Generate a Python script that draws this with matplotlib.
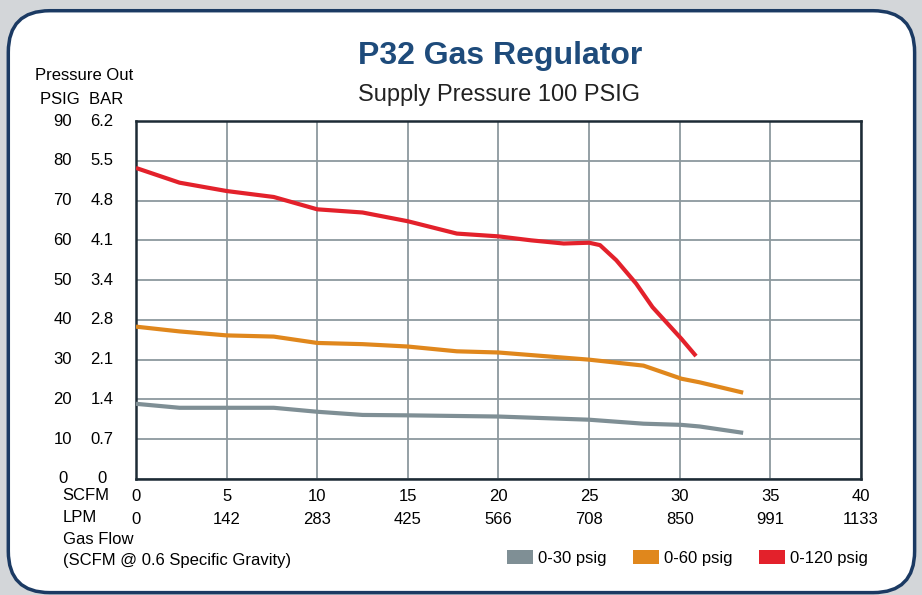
import matplotlib.pyplot as plt
from matplotlib.patches import FancyBboxPatch, Patch

# --- data ---
scfm_ticks = [0, 5, 10, 15, 20, 25, 30, 35, 40]
lpm_ticks = [0, 142, 283, 425, 566, 708, 850, 991, 1133]
psig_ticks = [0, 10, 20, 30, 40, 50, 60, 70, 80, 90]
bar_ticks = ["0", "0.7", "1.4", "2.1", "2.8", "3.4", "4.1", "4.8", "5.5", "6.2"]

flow_30 = [0, 2.4, 5, 7.6, 10, 12.5, 15, 20, 25, 28, 30.1, 31.1, 33.5]
psig_30 = [18.9, 17.9, 17.9, 17.9, 16.9, 16.1, 16.0, 15.7, 14.9, 13.9, 13.6, 13.2, 11.6]

flow_60 = [0, 2.4, 5, 7.6, 10, 12.5, 15, 17.7, 20, 25, 28, 30.1, 31.1, 33.5]
psig_60 = [38.3, 37.1, 36.1, 35.8, 34.2, 33.9, 33.3, 32.1, 31.8, 30.0, 28.5, 25.2, 24.3, 21.7]

flow_120 = [0, 2.4, 5, 7.6, 10, 12.5, 15, 17.7, 20, 21.8, 23.6, 25.0, 25.6,
            26.5, 27.6, 28.5, 30.1, 30.9]
psig_120 = [78.2, 74.5, 72.4, 70.9, 67.8, 67.0, 64.8, 61.7, 61.0, 60.0, 59.2, 59.4, 58.8,
            55.0, 49.1, 43.2, 35.2, 30.9]

series = [
    ("0-30 psig", flow_30, psig_30, "#7f8f95"),
    ("0-60 psig", flow_60, psig_60, "#e0871c"),
    ("0-120 psig", flow_120, psig_120, "#e3212b"),
]

plt.rcParams["font.family"] = ["Liberation Sans", "DejaVu Sans"]
FS = 12

fig = plt.figure(figsize=(9.22, 5.95), dpi=100, facecolor="#d3d6d9")

# rounded white panel with navy border
panel = FancyBboxPatch((0.009, 0.004), 0.983, 0.978,
                       boxstyle="round,pad=0,rounding_size=0.045",
                       transform=fig.transFigure, facecolor="white",
                       edgecolor="#1b3a63", linewidth=2.5, zorder=-5,
                       mutation_aspect=922 / 595)
fig.patches.append(panel)

ax = fig.add_axes([0.1475, 0.195, 0.7863, 0.6016])
ax.set_facecolor("white")

for label, x, y, color in series:
    ax.plot(x, y, color=color, linewidth=3, solid_capstyle="butt",
            solid_joinstyle="round", zorder=3)

ax.set_xlim(0, 40)
ax.set_ylim(0, 90)
ax.set_xticks(scfm_ticks)
ax.set_yticks(psig_ticks)
ax.grid(True, color="#8c999e", linewidth=1.3)
ax.tick_params(length=0, labelbottom=False, labelleft=False)
for side in ax.spines.values():
    side.set_color("#1d2b35")
    side.set_linewidth(1.8)

# y tick labels: PSIG and BAR columns
tf = ax.get_yaxis_transform()
for v, b in zip(psig_ticks, bar_ticks):
    ax.text(-0.101, v, str(v), transform=tf, ha="center", va="center", fontsize=FS)
    ax.text(-0.047, v, b, transform=tf, ha="center", va="center", fontsize=FS)

# x tick labels: SCFM and LPM rows
xf = ax.get_xaxis_transform()
for s, l in zip(scfm_ticks, lpm_ticks):
    ax.text(s, -0.05, str(s), transform=xf, ha="center", va="center", fontsize=FS)
    ax.text(s, -0.112, str(l), transform=xf, ha="center", va="center", fontsize=FS)

fig.text(0.068, 1 - 496 / 595, "SCFM", ha="left", va="center", fontsize=FS)
fig.text(0.068, 1 - 518 / 595, "LPM", ha="left", va="center", fontsize=FS)
fig.text(0.068, 1 - 540 / 595, "Gas Flow", ha="left", va="center", fontsize=FS)
fig.text(0.068, 1 - 560 / 595, "(SCFM @ 0.6 Specific Gravity)", ha="left",
         va="center", fontsize=FS)

fig.text(0.0915, 1 - 75 / 595, "Pressure Out", ha="center", va="center", fontsize=FS)
fig.text(0.0885, 1 - 99 / 595, "PSIG  BAR", ha="center", va="center", fontsize=FS)

fig.text(0.542, 1 - 56 / 595, "P32 Gas Regulator", ha="center", va="center",
         fontsize=23, fontweight="bold", color="#1e4b7b")
fig.text(0.541, 1 - 95 / 595, "Supply Pressure 100 PSIG", ha="center", va="center",
         fontsize=17, color="#222222")

handles = [Patch(facecolor=c, edgecolor="none", label=lab) for lab, _, _, c in series]
fig.legend(handles=handles, loc="center", bbox_to_anchor=(0.746, 1 - 558 / 595),
           ncol=3, frameon=False, fontsize=FS, handlelength=1.55, handleheight=0.85,
           handletextpad=0.3, columnspacing=1.6)

fig.savefig("out.png", dpi=100, facecolor=fig.get_facecolor())
